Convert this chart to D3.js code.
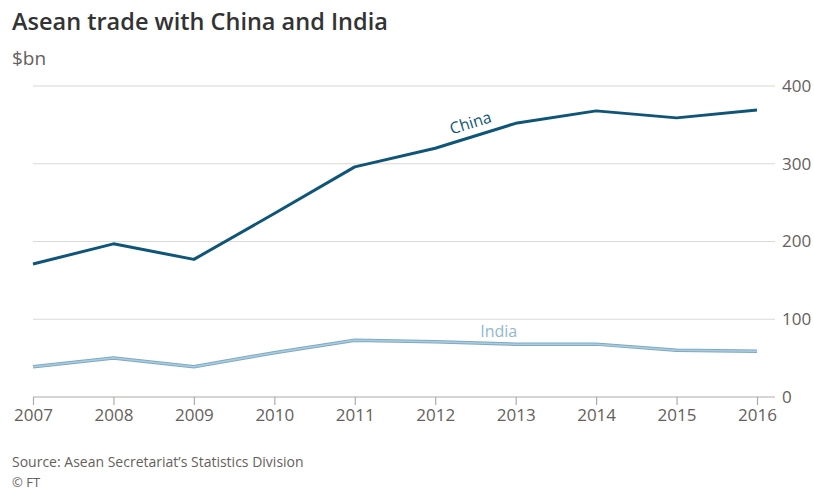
<!DOCTYPE html>
<html>
<head>
<meta charset="utf-8">
<script src="https://cdn.jsdelivr.net/npm/d3@7"></script>
<style>
body { margin: 0; background: #fff; font-family: "Open Sans", sans-serif; }
.tick text { font-family: "Open Sans", sans-serif; }
</style>
</head>
<body>
<div id="chart-area"></div>
<script>
// Data
var years = [2007, 2008, 2009, 2010, 2011, 2012, 2013, 2014, 2015, 2016];
var china = [171, 197, 177, 236, 296, 320, 352, 368, 359, 369];
var india = [39, 50, 39, 57, 73, 71, 68, 68, 60, 59];
var yTicks = [0, 100, 200, 300, 400];

var W = 814, H = 491;
var margin = {top: 86, right: 57, bottom: 94, left: 33},
    width = 757 - margin.left,
    height = 397 - margin.top;

var svg = d3.select("#chart-area").append("svg")
    .attr("width", W)
    .attr("height", H);

var g = svg.append("g")
    .attr("transform", "translate(" + margin.left + "," + margin.top + ")");

// Scales
var x = d3.scaleLinear().domain([2007, 2016]).range([0, width]);
var y = d3.scaleLinear().domain([0, 400]).range([height, 0]);

// Titles
svg.append("text")
    .attr("x", 12).attr("y", 30)
    .attr("fill", "#333")
    .style("font-size", "23.5px")
    .style("font-weight", "600")
    .text("Asean trade with China and India");

svg.append("text")
    .attr("x", 12).attr("y", 65)
    .attr("fill", "#66605c")
    .style("font-size", "19px")
    .text("$bn");

// Gridlines
g.selectAll(".grid")
    .data(yTicks)
    .enter()
    .append("line")
    .attr("x1", 0).attr("x2", 742)
    .attr("y1", function(d){ return y(d); })
    .attr("y2", function(d){ return y(d); })
    .attr("stroke", function(d){ return d === 0 ? "#b0aba6" : "#dcd8d4"; })
    .attr("stroke-width", 1.2);

// Y axis labels (right)
var yAxis = g.append("g")
    .attr("transform", "translate(742,0)")
    .call(d3.axisRight(y).tickValues(yTicks).tickSize(0).tickPadding(7));
yAxis.select(".domain").remove();
yAxis.selectAll("text")
    .attr("fill", "#66605c")
    .style("font-size", "17px");

// X axis
var xAxis = g.append("g")
    .attr("transform", "translate(0," + height + ")")
    .call(d3.axisBottom(x).tickValues(years).tickFormat(d3.format("d")).tickSize(8).tickPadding(4));
xAxis.select(".domain").remove();
xAxis.selectAll("line").attr("stroke", "#b0aba6").attr("stroke-width", 1.2);
xAxis.selectAll("text")
    .attr("fill", "#66605c")
    .style("font-size", "17px");

// Lines
var line = d3.line()
    .x(function(d, i){ return x(years[i]); })
    .y(function(d){ return y(d); });

g.append("path")
    .datum(india)
    .attr("fill", "none")
    .attr("stroke", "#7fa9c0")
    .attr("stroke-width", 3.5)
    .attr("d", line);
g.append("path")
    .datum(india)
    .attr("fill", "none")
    .attr("stroke", "#a9cde0")
    .attr("stroke-width", 1.5)
    .attr("d", line);

g.append("path")
    .datum(china)
    .attr("fill", "none")
    .attr("stroke", "#0f5578")
    .attr("stroke-width", 3)
    .attr("stroke-linejoin", "round")
    .attr("d", line);

// Line labels
var ang = Math.atan2(y(352) - y(320), x(2013) - x(2012)) * 180 / Math.PI;
g.append("text")
    .attr("transform", "translate(" + (x(2012) + 37) + "," + (y(338) - 6) + ") rotate(" + ang + ")")
    .attr("text-anchor", "middle")
    .attr("fill", "#0f5578")
    .style("font-size", "16px")
    .text("China");

g.append("text")
    .attr("x", (x(2013) - 17))
    .attr("y", y(68) - 7)
    .attr("text-anchor", "middle")
    .attr("fill", "#8fb8cf")
    .style("font-size", "16px")
    .text("India");

// Footer
svg.append("text")
    .attr("x", 12).attr("y", 467)
    .attr("fill", "#66605c")
    .style("font-size", "14px")
    .text("Source: Asean Secretariat\u2019s Statistics Division");

svg.append("text")
    .attr("x", 12).attr("y", 487)
    .attr("fill", "#66605c")
    .style("font-size", "13px")
    .text("\u00a9 FT");
</script>
</body>
</html>
